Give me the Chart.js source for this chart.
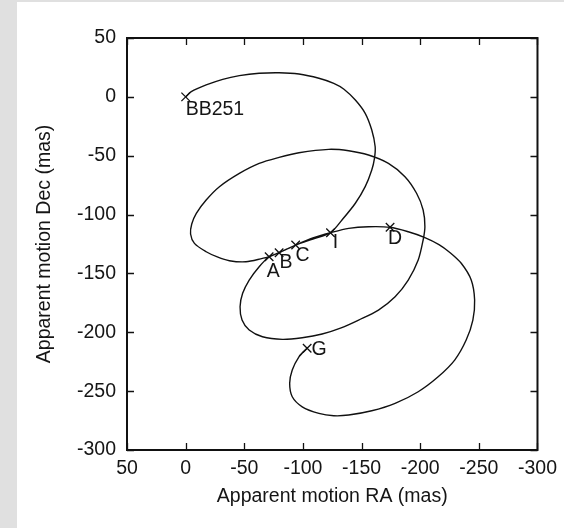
<!DOCTYPE html>
<html>
<head>
<meta charset="utf-8">
<script src="https://cdn.jsdelivr.net/npm/chart.js@4.4.1/dist/chart.umd.min.js"></script>
<style>
  html, body { margin: 0; padding: 0; background: #e0e0e0; width: 564px; height: 528px; overflow: hidden; }
  #wrap { position: absolute; left: 17px; top: 2px; width: 547px; height: 526px; background: #ffffff; }
  canvas { display: block; }
</style>
</head>
<body>
<div id="wrap"><canvas id="c" width="547" height="526"></canvas></div>
<script>
// Apparent motion track (mas)
const pathRA = [
  0, -4.8, -17.5, -31.6, -45.8, -62.7, -79.7, -96.6, -113.6, -126.3,
  -135, -144.7, -153.1, -158.7, -161.6, -161, -158.7, -153.1, -144.7, -133.3,
  -123.5, -108.5, -93.8, -79.7, -71.2, -62.7, -54.2, -48.6, -46.4, -48.1,
  -54.2, -65.5, -82.5, -99.4, -116.4, -132, -147.5, -164.4, -178.6, -189.8,
  -198.3, -202.5, -204, -202.5, -196.9, -187, -172.9, -155.9, -139, -122,
  -96.6, -79.7, -62.7, -45.8, -28.8, -17.5, -9.1, -5.2, -4.2, -7.5,
  -17.5, -27, -37.3, -51.4, -65.5, -71.2, -79.7, -93.8, -108.5, -123.5,
  -139, -155.9, -174.3, -189.8, -204, -216, -225, -235, -243.5, -246.4,
  -244.9, -239.2, -229.4, -215.3, -198.3, -178.6, -158.7, -139, -126.3, -113.6,
  -99.4, -90.9, -88.7, -90.9, -96.6, -103.6
];
const pathDec = [
  0, 4.4, 10.1, 14.9, 18.0, 20.0, 20.5, 19.4, 15.8, 11.5,
  6.5, -2.7, -14, -28.2, -42.4, -52.2, -62.1, -76.3, -90.4, -104.6,
  -115.4, -120.8, -125.9, -132.4, -135.8, -144.3, -155.6, -166.9, -178.3, -189.6,
  -198.1, -203.8, -206, -204.6, -201.5, -196.5, -189.6, -181.1, -169.8, -155.6,
  -138.6, -121.6, -110.3, -96.1, -81.9, -67.8, -56.5, -49.4, -45.8, -44.6,
  -47.5, -51.4, -56.5, -65, -76.3, -87.6, -98.9, -108, -116.5, -124.5,
  -131.6, -136, -139.2, -140.1, -137.2, -135.8, -132.4, -125.9, -119.8, -115.4,
  -111.7, -110.3, -110.8, -114.6, -119.5, -125.5, -132, -141.4, -155.6, -172.6,
  -189.6, -206.6, -223.6, -237.8, -250.5, -260.4, -266.7, -270.3, -270.9, -268.9,
  -263.3, -254.8, -243.4, -232.1, -220.8, -213.6
];
// Labelled epochs
const markNames = ['BB251', 'A', 'B', 'C', 'I', 'D', 'G'];
const markRA  = [0, -71.2, -79.7, -93.8, -123.5, -174.3, -103.6];
const markDec = [0, -135.8, -132.4, -125.9, -115.4, -110.8, -213.6];
// Axis ticks
const axisMin = -300, axisMax = 50, axisStep = 50;

const trackData = pathRA.map((x, i) => ({x: x, y: pathDec[i]}));
const markData = markRA.map((x, i) => ({x: x, y: markDec[i]}));

const FONT = '"Liberation Sans", Arial, Helvetica, sans-serif';
const FS = 19.5;
const INK = '#151515';

// label offsets in pixels (style only)
const labelStyle = {
  'BB251': {dx: 0, dy: 13, align: 'left'},
  'A': {dx: 4, dy: 15, align: 'center'},
  'B': {dx: 7, dy: 10, align: 'center'},
  'C': {dx: 7, dy: 11, align: 'center'},
  'I': {dx: 5, dy: 10, align: 'center'},
  'D': {dx: 5, dy: 11, align: 'center'},
  'G': {dx: 12, dy: 1, align: 'center'}
};

const framePlugin = {
  id: 'frame',
  afterDatasetsDraw(chart) {
    const {ctx, chartArea: a, scales} = chart;
    ctx.save();
    ctx.strokeStyle = '#111';
    ctx.lineWidth = 1.3;
    const L = 7;
    scales.x.ticks.forEach(t => {
      const px = Math.round(scales.x.getPixelForValue(t.value)) + 0.5;
      ctx.beginPath();
      ctx.moveTo(px, a.bottom); ctx.lineTo(px, a.bottom - L);
      ctx.moveTo(px, a.top); ctx.lineTo(px, a.top + L);
      ctx.stroke();
    });
    scales.y.ticks.forEach(t => {
      const py = Math.round(scales.y.getPixelForValue(t.value)) + 0.5;
      ctx.beginPath();
      ctx.moveTo(a.left, py); ctx.lineTo(a.left + L, py);
      ctx.moveTo(a.right, py); ctx.lineTo(a.right - L, py);
      ctx.stroke();
    });
    ctx.lineWidth = 2;
    ctx.strokeStyle = '#111';
    ctx.strokeRect(a.left, a.top, a.right - a.left, a.bottom - a.top);
    // point labels
    ctx.fillStyle = INK;
    ctx.font = FS + 'px ' + FONT;
    ctx.textBaseline = 'middle';
    markNames.forEach((n, i) => {
      const s = labelStyle[n];
      const px = scales.x.getPixelForValue(markRA[i]);
      const py = scales.y.getPixelForValue(markDec[i]);
      ctx.textAlign = s.align;
      ctx.fillText(n, px + s.dx, py + s.dy);
    });
    ctx.restore();
  }
};

new Chart(document.getElementById('c'), {
  type: 'scatter',
  data: {
    datasets: [
      {
        data: trackData,
        showLine: true,
        borderColor: '#111',
        borderWidth: 1.4,
        pointRadius: 0,
        tension: 0.3,
        fill: false
      },
      {
        data: markData,
        showLine: false,
        pointStyle: 'crossRot',
        pointRadius: 6,
        borderColor: '#111',
        borderWidth: 1.3,
        backgroundColor: '#111'
      }
    ]
  },
  options: {
    responsive: false,
    devicePixelRatio: 1,
    animation: false,
    layout: { padding: { left: 0, top: 36, right: 24, bottom: 0 } },
    plugins: { legend: { display: false }, tooltip: { enabled: false } },
    scales: {
      x: {
        type: 'linear',
        reverse: true,
        min: axisMin, max: axisMax,
        grid: { display: false, drawTicks: false },
        border: { display: false },
        ticks: { stepSize: axisStep, color: INK, font: { family: FONT, size: FS }, padding: 7, maxRotation: 0, autoSkip: false },
        title: { display: true, text: 'Apparent motion RA (mas)', color: INK, font: { family: FONT, size: FS }, padding: { top: 0, bottom: 20 } },
        afterFit(s) { s.height = 78; }
      },
      y: {
        type: 'linear',
        min: axisMin, max: axisMax,
        grid: { display: false, drawTicks: false },
        border: { display: false },
        ticks: { stepSize: axisStep, color: INK, font: { family: FONT, size: FS }, padding: 11, autoSkip: false },
        title: { display: true, text: 'Apparent motion Dec (mas)', color: INK, font: { family: FONT, size: FS }, padding: { top: 16, bottom: 0 } },
        afterFit(s) { s.width = 110; }
      }
    }
  },
  plugins: [framePlugin]
});
</script>
</body>
</html>
